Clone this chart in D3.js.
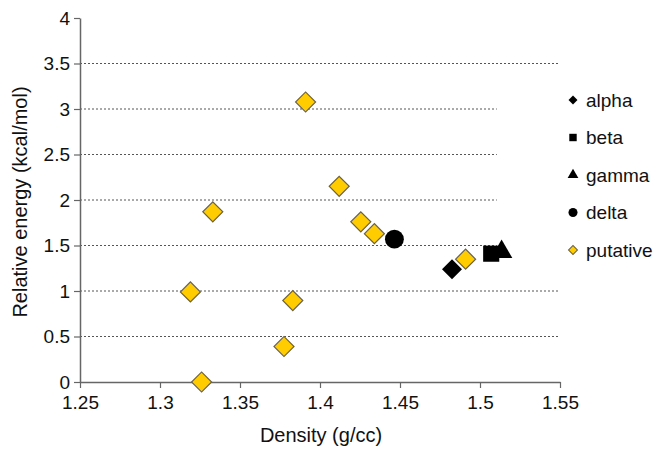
<!DOCTYPE html>
<html>
<head>
<meta charset="utf-8">
<script src="https://cdn.jsdelivr.net/npm/d3@7"></script>
<style>
  body { margin: 0; background: #fff; }
  text { font-family: "Liberation Sans", Arial, sans-serif; fill: #111; }
  .grid line { stroke: #555; stroke-dasharray: 2,2; }
</style>
</head>
<body>
<svg id="chart" width="654" height="449"></svg>
<script>
// values
const putativeX = [1.326, 1.319, 1.333, 1.3775, 1.383, 1.391, 1.412, 1.4255, 1.434, 1.491];
const putativeY = [0.0, 0.99, 1.87, 0.39, 0.895, 3.077, 2.15, 1.76, 1.63, 1.35];
const alpha = [[1.4825, 1.24]];
const beta = [[1.507, 1.41]];
const gamma = [[1.5135, 1.43]];
const delta = [[1.4465, 1.57]];
const xTicks = [1.25, 1.3, 1.35, 1.4, 1.45, 1.5, 1.55];
const yTicks = [0, 0.5, 1, 1.5, 2, 2.5, 3, 3.5, 4];
const legendNames = ['alpha', 'beta', 'gamma', 'delta', 'putative'];

const svg = d3.select('#chart');
const margin = {left: 80, right: 94, top: 18, bottom: 67};
const W = 654, H = 449;

const x = d3.scaleLinear().domain([1.25, 1.55]).range([margin.left, W - margin.right]);
const y = d3.scaleLinear().domain([0, 4]).range([H - margin.bottom, margin.top]);

// gridlines
svg.append('g').attr('class', 'grid')
  .selectAll('line').data(yTicks.filter(v => v > 0 && v < 4)).join('line')
  .attr('x1', x(1.25)).attr('x2', x(1.55))
  .attr('y1', d => y(d)).attr('y2', d => y(d));

// legend box hides the grid ends like the original
svg.append('rect')
  .attr('x', x(1.5105)).attr('y', 95)
  .attr('width', 120).attr('height', 168)
  .attr('fill', '#fff');

const xAxis = svg.append('g')
  .attr('transform', `translate(0,${y(0)})`)
  .call(d3.axisBottom(x).tickValues(xTicks).tickSize(6).tickSizeOuter(0).tickFormat(d3.format('')));
const yAxis = svg.append('g')
  .attr('transform', `translate(${x(1.25)},0)`)
  .call(d3.axisLeft(y).tickValues(yTicks).tickSize(6).tickSizeOuter(0).tickFormat(d3.format('')));

for (const ax of [xAxis, yAxis]) {
  ax.attr('font-size', 19).attr('font-family', '"Liberation Sans", Arial, sans-serif');
  ax.select('.domain').attr('stroke', '#666').attr('stroke-width', 1.5);
  ax.selectAll('.tick line').attr('stroke', '#666').attr('stroke-width', 1.2);
  ax.selectAll('.tick text').attr('fill', '#111');
}
xAxis.selectAll('.tick text').attr('y', 14).attr('dy', '0.71em');
yAxis.selectAll('.tick text').attr('x', -10);

// axis titles
svg.append('text')
  .attr('x', 321).attr('y', 442)
  .attr('text-anchor', 'middle').attr('font-size', 20)
  .text('Density (g/cc)');
svg.append('text')
  .attr('transform', `translate(27,${(y(0) + y(4)) / 2 + 2}) rotate(-90)`)
  .attr('text-anchor', 'middle').attr('font-size', 20)
  .text('Relative energy (kcal/mol)');

// marker shapes
const shapes = {
  alpha: d3.symbol().type(d3.symbolSquare),
  beta: d3.symbol().type(d3.symbolSquare),
  gamma: d3.symbol().type(d3.symbolTriangle),
  delta: d3.symbol().type(d3.symbolCircle),
  putative: d3.symbol().type(d3.symbolSquare)
};
const bigSize = {alpha: 200, beta: 260, gamma: 200, delta: 280, putative: 200};
const smallSize = {alpha: 40, beta: 55, gamma: 50, delta: 64, putative: 40};
const rot = {alpha: 45, beta: 0, gamma: 0, delta: 0, putative: 45};
const fill = {alpha: '#000', beta: '#000', gamma: '#000', delta: '#000', putative: '#FFCC00'};
const stroke = {alpha: 'none', beta: 'none', gamma: 'none', delta: 'none', putative: '#6b6248'};

function drawSeries(name, pts) {
  svg.append('g').selectAll('path').data(pts).join('path')
    .attr('d', shapes[name].size(bigSize[name])())
    .attr('transform', d => `translate(${x(d[0])},${y(d[1])}) rotate(${rot[name]})`)
    .attr('fill', fill[name])
    .attr('stroke', stroke[name])
    .attr('stroke-width', 1.2);
}
drawSeries('putative', d3.zip(putativeX, putativeY));
drawSeries('delta', delta);
drawSeries('alpha', alpha);
drawSeries('beta', beta);
drawSeries('gamma', gamma);

// legend
const leg = svg.append('g').selectAll('g').data(legendNames).join('g')
  .attr('transform', (d, i) => `translate(573,${100 + i * 37.5})`);
leg.append('path')
  .attr('d', d => shapes[d].size(smallSize[d])())
  .attr('transform', d => `rotate(${rot[d]})`)
  .attr('fill', d => fill[d])
  .attr('stroke', d => stroke[d]);
leg.append('text')
  .attr('x', 13).attr('dy', '0.35em')
  .attr('font-size', 19)
  .text(d => d);
</script>
</body>
</html>
